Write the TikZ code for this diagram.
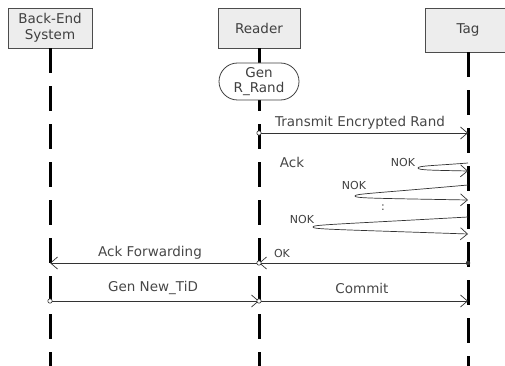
\documentclass[tikz,border=0pt]{standalone}
\usepackage{fontspec}
\setmainfont{DejaVu Sans}
\usetikzlibrary{arrows.meta,calc,shapes.misc}
\newcommand{\LBx}{50}
\newcommand{\LRx}{259}
\newcommand{\LTx}{468}
\newcommand{\LifeBottom}{366}
\newcommand{\LifeWidth}{3pt}
\newcommand{\BigFont}{\fontsize{13.5}{15.5}\selectfont}
\newcommand{\SmallFont}{\fontsize{11}{12}\selectfont}
\tikzset{
  actorbox/.style={
    draw=black!70,fill=black!7,line width=0.8pt,
    align=center,inner sep=0pt,text=black!75,font=\BigFont
  },
  lifeline/.style={
    line width=\LifeWidth,
    dash pattern=on 25pt off 13pt
  },
  msg/.style={
    draw=black!80,line width=0.7pt,
    -{Straight Barb[length=7pt,width=12pt,line width=0.7pt]}
  },
  msglabel/.style={text=black!72,font=\BigFont,inner sep=0pt},
  noklabel/.style={text=black!75,font=\SmallFont,inner sep=0pt},
  opendot/.style={draw=black!80,fill=white,line width=0.6pt},
  soliddot/.style={fill=black!80}
}

\begin{document}
\begin{tikzpicture}[x=1pt,y=-1pt]
  \useasboundingbox (0,0) rectangle (505,366);

  % actor heads
  \node[actorbox,minimum width=84pt,minimum height=40pt] (be) at (\LBx,28) {Back-End\\System};
  \node[actorbox,minimum width=82pt,minimum height=40pt] (rd) at (\LRx,28) {Reader};
  \node[actorbox,minimum width=86pt,minimum height=44pt] (tg) at (\LTx,30) {Tag};

  \coordinate (beEnd) at (\LBx,\LifeBottom);
  \coordinate (rdEnd) at (\LRx,\LifeBottom);
  \coordinate (tgEnd) at (\LTx,\LifeBottom);
  \draw[lifeline] (be.south) -- (beEnd);
  \draw[lifeline] (rd.south) -- (rdEnd);
  \draw[lifeline] (tg.south) -- (tgEnd);

  \node[rounded rectangle,draw=black!75,fill=white,line width=0.8pt,
        minimum width=80pt,minimum height=37pt,inner sep=0pt,
        align=center,text=black!75,font=\BigFont] (gen) at (\LRx,81.5) {Gen\\R\_Rand};

  % reader -> tag
  \coordinate (txR) at (\LRx,133);
  \coordinate (txT) at (\LTx,133);
  \draw[msg] (txR) -- (txT);
  \filldraw[opendot] (txR) circle[radius=2.2pt];
  \node[msglabel] (txL) at (360,123) {Transmit Encrypted Rand};

  \node[msglabel] (ack) at (292,162) {Ack};

  % retries from the tag
  \foreach \k/\ys/\xt/\yt/\ye/\lx/\ly in {1/163/418/168/171/403/162,
                                         2/185/355/196/200/354/185,
                                         3/217/313/227/234/302/219} {
    \coordinate (n\k s) at (\LTx,\ys);
    \coordinate (n\k t) at (\xt,\yt);
    \coordinate (n\k e) at (\LTx,\ye);
    \draw[msg] (n\k s) .. controls ($(n\k t)+(14,-2.2)$) and ($(n\k t)+(0,-2.2)$) .. (n\k t)
               .. controls ($(n\k t)+(0,2.2)$) and ($(n\k t)+(14,2.2)$) .. (n\k e);
    \node[noklabel] (nok\k) at (\lx,\ly) {NOK};
  }
  \node[noklabel] (more) at (383,208) {:};

  % answers back
  \coordinate (okT) at (\LTx,263);
  \coordinate (okR) at (\LRx,263);
  \coordinate (afB) at (\LBx,263);
  \draw[msg] (okT) -- (okR);
  \draw[msg] (okR) -- (afB);
  \fill[soliddot] (okT) circle[radius=2.2pt];
  \filldraw[opendot] (okR) circle[radius=2.2pt];
  \node[noklabel] (okL) at (282,253) {OK};
  \node[msglabel] (afL) at (150,253) {Ack Forwarding};

  % new id and commit
  \coordinate (gnB) at (\LBx,301);
  \coordinate (gnR) at (\LRx,301);
  \coordinate (cmT) at (\LTx,301);
  \draw[msg] (gnB) -- (gnR);
  \draw[msg] (gnR) -- (cmT);
  \filldraw[opendot] (gnB) circle[radius=2.2pt];
  \filldraw[opendot] (gnR) circle[radius=2.2pt];
  \node[msglabel] (gnL) at (153,288) {Gen New\_TiD};
  \node[msglabel] (cmL) at (362,288) {Commit};
\end{tikzpicture}
\end{document}
